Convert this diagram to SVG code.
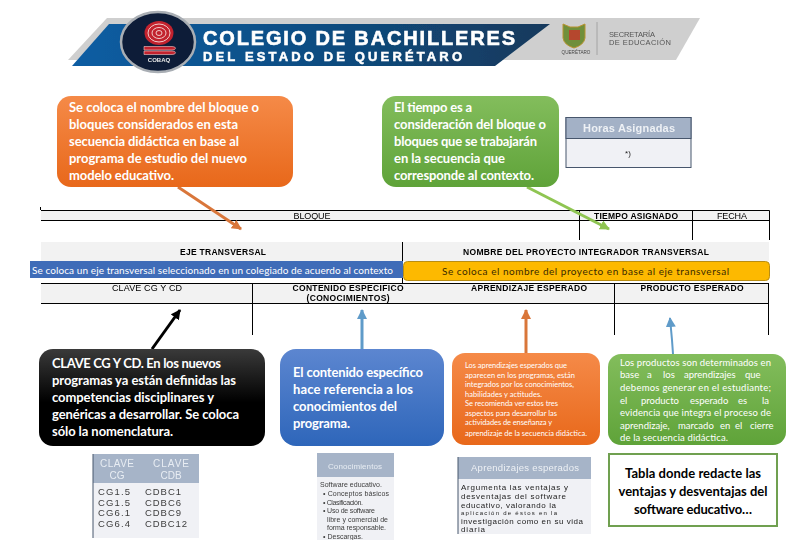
<svg xmlns="http://www.w3.org/2000/svg" width="797" height="540" viewBox="0 0 797 540">
<style>
text{font-family:"Lato","Liberation Sans",sans-serif}
.c14{font-size:13px;fill:#fff;font-weight:bold}
.c8{font-size:7.5px;fill:#fff}
.c10{font-size:9.5px;fill:#fff}
.th{font-family:"Liberation Sans",Arial,sans-serif;font-size:9px;fill:#000;text-anchor:middle}
.b{font-weight:bold;font-size:8.500px}
.scr{font-family:"Liberation Sans",Arial,sans-serif;fill:#3c3c3c}
.ln{stroke:#000;stroke-width:1;fill:none}
.ar{fill:none;stroke-width:3}
</style>
<defs>
<linearGradient id="gO" x1="0" y1="0" x2="0" y2="1"><stop offset="0" stop-color="#f58a48"/><stop offset="1" stop-color="#e8681a"/></linearGradient>
<linearGradient id="gG" x1="0" y1="0" x2="0" y2="1"><stop offset="0" stop-color="#83bd5c"/><stop offset="1" stop-color="#5fa339"/></linearGradient>
<linearGradient id="gK" x1="0" y1="0" x2="0" y2="1"><stop offset="0" stop-color="#3a3a3a"/><stop offset=".55" stop-color="#000"/><stop offset="1" stop-color="#000"/></linearGradient>
<linearGradient id="gB" x1="0" y1="0" x2="0" y2="1"><stop offset="0" stop-color="#5c86d0"/><stop offset="1" stop-color="#2e66ba"/></linearGradient>
<linearGradient id="gBan" x1="0" y1="0" x2="1" y2="0"><stop offset="0" stop-color="#0e5da3"/><stop offset=".45" stop-color="#0f4f86"/><stop offset="1" stop-color="#14395c"/></linearGradient>
<filter id="soft" x="-5%" y="-5%" width="110%" height="110%"><feGaussianBlur stdDeviation="0.35"/></filter>
<marker id="mO" markerUnits="userSpaceOnUse" markerWidth="12" markerHeight="12" refX="9" refY="5" orient="auto"><path d="M0 0L10 5L0 10z" fill="#d9763a"/></marker>
<marker id="mG" markerUnits="userSpaceOnUse" markerWidth="12" markerHeight="12" refX="9" refY="5" orient="auto"><path d="M0 0L10 5L0 10z" fill="#8fc552"/></marker>
<marker id="mK" markerUnits="userSpaceOnUse" markerWidth="12" markerHeight="12" refX="9" refY="5" orient="auto"><path d="M0 0L10 5L0 10z" fill="#000"/></marker>
<marker id="mB" markerUnits="userSpaceOnUse" markerWidth="12" markerHeight="12" refX="9" refY="5" orient="auto"><path d="M0 0L10 5L0 10z" fill="#5f9bc9"/></marker>
</defs>

<g id="banner" filter="url(#soft)">
<polygon points="107,18 700,18 676,60 68,60" fill="#cfcfcf"/>
<polygon points="109,24 550,24 495,66 72,66" fill="url(#gBan)"/>
<ellipse cx="158" cy="42" rx="37" ry="30" fill="#0c1c38" stroke="#a9aeb4" stroke-width="2.5"/>
<ellipse cx="159" cy="33" rx="14.500" ry="12" fill="#c2232e"/>
<ellipse cx="159" cy="33" rx="11" ry="9" fill="none" stroke="#f1c9c9" stroke-width="1"/>
<ellipse cx="159" cy="33" rx="7" ry="5.500" fill="none" stroke="#f1c9c9" stroke-width="1"/>
<ellipse cx="159" cy="33" rx="3" ry="2.500" fill="none" stroke="#f1c9c9" stroke-width="1"/>
<path d="M144 46.500h28a3 1.500 0 0 1 0 3.500h-28zM144 51h28a3 1.500 0 0 1 0 3.500h-28z" fill="#c2232e" stroke="#f1c9c9" stroke-width=".6"/>
<text x="159" y="62" text-anchor="middle" font-size="6" font-weight="bold" fill="#e9e9e9" style="font-family:'Liberation Sans',sans-serif">COBAQ</text>
<text x="203" y="45" font-size="20" font-weight="bold" fill="#fff" stroke="#fff" stroke-width=".6" textLength="312" lengthAdjust="spacing" style="font-family:'Liberation Sans',sans-serif">COLEGIO DE BACHILLERES</text>
<text x="203" y="60.500" font-size="13" font-weight="bold" fill="#fff" stroke="#fff" stroke-width=".5" textLength="259" lengthAdjust="spacing" style="font-family:'Liberation Sans',sans-serif">DEL ESTADO DE QUERÉTARO</text>
<path d="M563 24l7 3h8l7-3v14q-1 7-11 10q-10-3-11-10z" fill="#6f8f3a" stroke="#b9932f" stroke-width="1"/>
<rect x="569" y="30" width="11" height="10" fill="#b5472f"/>
<text x="576" y="54" text-anchor="middle" font-size="4.600" fill="#444" style="font-family:'Liberation Sans',sans-serif">QUERÉTARO</text>
<line x1="597" y1="22" x2="597" y2="55" stroke="#9a9a9a" stroke-width=".8"/>
<text x="609" y="37" font-size="7.500" fill="#555" textLength="46" style="font-family:'Liberation Sans',sans-serif">SECRETARÍA</text>
<text x="609" y="45" font-size="7.500" fill="#555" textLength="62" style="font-family:'Liberation Sans',sans-serif">DE EDUCACIÓN</text>
</g>

<g id="plantilla">
<rect x="41" y="210" width="728" height="10" fill="#f2f2f2"/>
<rect x="41" y="242" width="728" height="19" fill="#f2f2f2"/>
<rect x="41" y="283" width="728" height="20" fill="#f2f2f2"/>
<path class="ln" d="M41 210.500H769.500V240M41 220.500H769M579.500 210V240M692.500 210V240M40.500 207V210"/>
<path class="ln" d="M402.500 242V283M41 283.500H769M41 303.500H769M252.500 283V335M614.500 283V335M768.500 283V335"/>
<g filter="url(#soft)">
<text class="th" x="312" y="218.500" textLength="37">BLOQUE</text>
<text class="th b" x="636" y="218.500" textLength="84">TIEMPO ASIGNADO</text>
<text class="th" x="732" y="218.500" textLength="30">FECHA</text>
<text class="th b" x="223" y="255" textLength="86">EJE TRANSVERSAL</text>
<text class="th b" x="586" y="255" textLength="246">NOMBRE DEL PROYECTO INTEGRADOR TRANSVERSAL</text>
<text class="th" x="147" y="291" textLength="70">CLAVE CG Y CD</text>
<text class="th b" x="348" y="291" textLength="111">CONTENIDO ESPECÍFICO</text>
<text class="th b" x="348" y="301" textLength="83">(CONOCIMIENTOS)</text>
<text class="th b" x="529" y="291" textLength="116">APRENDIZAJE ESPERADO</text>
<text class="th b" x="692" y="291" textLength="103">PRODUCTO ESPERADO</text>
</g>
</g>

<g id="conectores">
<line class="ar" x1="178" y1="187" x2="241" y2="229" stroke="#d9763a" marker-end="url(#mO)"/>
<line class="ar" x1="527" y1="187" x2="609" y2="229" stroke="#8fc552" marker-end="url(#mG)"/>
<line class="ar" x1="152" y1="349" x2="180" y2="310" stroke="#000" marker-end="url(#mK)"/>
<line class="ar" x1="362" y1="349" x2="362" y2="310" stroke="#5f9bc9" marker-end="url(#mB)"/>
<line class="ar" x1="526" y1="353" x2="526" y2="310" stroke="#d9763a" marker-end="url(#mO)"/>
<path d="M673 354L672 340L670 318" fill="none" stroke="#5f9bc9" stroke-width="2" marker-end="url(#mB)"/>
</g>

<g id="bloque">
<rect x="57" y="96" width="236" height="91" rx="14" fill="url(#gO)"/>
<text class="c14" x="69" y="112" textLength="190">Se coloca el nombre del bloque o</text>
<text class="c14" x="69" y="129" textLength="169">bloques considerados en esta</text>
<text class="c14" x="69" y="146" textLength="170">secuencia didáctica en base al</text>
<text class="c14" x="69" y="163" textLength="178">programa de estudio del nuevo</text>
<text class="c14" x="69" y="180" textLength="105">modelo educativo.</text>
</g>

<g id="tiempo">
<rect x="382" y="96" width="177" height="91" rx="14" fill="url(#gG)"/>
<text class="c14" x="394" y="112" textLength="78">El tiempo es a</text>
<text class="c14" x="394" y="129" textLength="152">consideración del bloque o</text>
<text class="c14" x="394" y="146" textLength="143">bloques que se trabajarán</text>
<text class="c14" x="394" y="163" textLength="111">en la secuencia que</text>
<text class="c14" x="394" y="180" textLength="140">corresponde al contexto.</text>
</g>

<g id="horas" filter="url(#soft)">
<rect x="566" y="117.500" width="125" height="50" fill="#f0f1f5" stroke="#46566c"/>
<rect x="566" y="117.500" width="125" height="21" fill="#a3b1c6" stroke="#46566c"/>
<text x="629" y="132" text-anchor="middle" font-size="11" font-weight="bold" fill="#eef1f5" textLength="92" style="font-family:'Liberation Sans',sans-serif">Horas Asignadas</text>
<text x="628" y="156" text-anchor="middle" font-size="8" fill="#222" style="font-family:'Liberation Sans',sans-serif">*)</text>
</g>

<g id="eje">
<rect x="30" y="261" width="373" height="17" fill="#3f6cb8"/>
<text x="32" y="274" font-size="10" fill="#fff" textLength="361">Se coloca un eje transversal seleccionado en un colegiado de acuerdo al contexto</text>
</g>

<g id="proyecto">
<rect x="403.500" y="261.500" width="366" height="19" rx="4" fill="#fdb900" stroke="#b98d12"/>
<text x="442" y="275" font-size="10" fill="#3a2a00" textLength="287">Se coloca el nombre del proyecto en base al eje transversal</text>
</g>

<g id="clave">
<rect x="39" y="349" width="226" height="97" rx="14" fill="url(#gK)"/>
<text class="c14" x="52" y="367.500" textLength="169">CLAVE CG Y CD. En los nuevos</text>
<text class="c14" x="52" y="385" textLength="184">programas ya están definidas las</text>
<text class="c14" x="52" y="402" textLength="162">competencias disciplinares y</text>
<text class="c14" x="52" y="419" textLength="187">genéricas a desarrollar. Se coloca</text>
<text class="c14" x="52" y="436" textLength="121">sólo la nomenclatura.</text>
</g>

<g id="contenido">
<rect x="280" y="349" width="164" height="97" rx="16" fill="url(#gB)"/>
<text class="c14" x="293" y="377" textLength="130">El contenido específico</text>
<text class="c14" x="293" y="394" textLength="120">hace referencia  a los</text>
<text class="c14" x="293" y="411" textLength="104">conocimientos del</text>
<text class="c14" x="293" y="428" textLength="57">programa.</text>
</g>

<g id="aprendizaje">
<rect x="452" y="353" width="148" height="92" rx="13" fill="url(#gO)"/>
<text class="c8" x="465" y="368" textLength="102">Los aprendizajes esperados que</text>
<text class="c8" x="465" y="378" textLength="110">aparecen en los programas, están</text>
<text class="c8" x="465" y="387" textLength="109">integrados por los conocimientos,</text>
<text class="c8" x="465" y="397" textLength="77">habilidades y actitudes.</text>
<text class="c8" x="465" y="406" textLength="93">Se recomienda ver estos tres</text>
<text class="c8" x="465" y="416" textLength="92">aspectos para desarrollar las</text>
<text class="c8" x="465" y="425" textLength="87">actividades de enseñanza y</text>
<text class="c8" x="465" y="436" textLength="122">aprendizaje de la secuencia didáctica.</text>
</g>

<g id="producto">
<rect x="608" y="354" width="178" height="91" rx="13" fill="url(#gG)"/>
<text class="c10" x="620" y="365.500" textLength="151">Los productos son determinados en</text>
<text class="c10" y="378"><tspan x="620">base</tspan><tspan x="647">a</tspan><tspan x="663">los</tspan><tspan x="684">aprendizajes</tspan><tspan x="745">que</tspan></text>
<text class="c10" x="620" y="391" textLength="151">debemos generar en el estudiante;</text>
<text class="c10" y="404"><tspan x="620">el</tspan><tspan x="641">producto</tspan><tspan x="690">esperado</tspan><tspan x="738">es</tspan><tspan x="762">la</tspan></text>
<text class="c10" x="620" y="416" textLength="151">evidencia que integra el proceso de</text>
<text class="c10" y="429"><tspan x="620">aprendizaje,</tspan><tspan x="678">marcado</tspan><tspan x="720">en</tspan><tspan x="735">el</tspan><tspan x="750">cierre</tspan></text>
<text class="c10" x="620" y="441" textLength="108">de la secuencia didáctica.</text>
</g>

<g id="tabla-clave" filter="url(#soft)">
<rect x="93" y="454" width="106" height="84" fill="#f0f1f5"/>
<rect x="93" y="454" width="106" height="29" fill="#a6b4c8"/>
<line x1="93" y1="454" x2="93" y2="538" stroke="#46566c"/>
<g font-size="10" text-anchor="middle"><text x="117" y="467" style="fill:#e8edf3;font-family:'Liberation Sans',sans-serif" textLength="34">CLAVE</text><text x="171" y="467" style="fill:#e8edf3;font-family:'Liberation Sans',sans-serif" textLength="36">CLAVE</text><text x="117" y="479" style="fill:#e8edf3;font-family:'Liberation Sans',sans-serif">CG</text><text x="171" y="479" style="fill:#e8edf3;font-family:'Liberation Sans',sans-serif">CDB</text></g>
<g font-size="9.500"><text class="scr" x="98" y="495" textLength="32">CG1.5</text><text class="scr" x="98" y="505.500" textLength="32">CG1.5</text><text class="scr" x="98" y="516" textLength="32">CG6.1</text><text class="scr" x="98" y="527" textLength="32">CG6.4</text>
<text class="scr" x="145" y="495" textLength="36">CDBC1</text><text class="scr" x="145" y="505.500" textLength="36">CDBC6</text><text class="scr" x="145" y="516" textLength="36">CDBC9</text><text class="scr" x="145" y="527" textLength="42">CDBC12</text></g>
</g>

<g id="tabla-conocimientos" filter="url(#soft)">
<rect x="317" y="453" width="77" height="87" fill="#f0f1f5"/>
<rect x="317" y="453" width="77" height="24" fill="#a6b4c8"/>
<text x="355" y="469" text-anchor="middle" font-size="8" fill="#e8edf3" textLength="54" style="font-family:'Liberation Sans',sans-serif">Conocimientos</text>
<g font-size="7"><text class="scr" x="320" y="487" textLength="62">Software educativo.</text>
<text class="scr" x="323" y="496" textLength="66">• Conceptos básicos</text>
<text class="scr" x="323" y="505" textLength="40">• Clasificación.</text>
<text class="scr" x="323" y="513" textLength="52">• Uso de software</text>
<text class="scr" x="327" y="522" textLength="61">libre y comercial de</text>
<text class="scr" x="327" y="530" textLength="59">forma responsable.</text>
<text class="scr" x="323" y="539" textLength="40">• Descargas.</text></g>
</g>

<g id="tabla-aprendizajes" filter="url(#soft)">
<rect x="458" y="457" width="133" height="77" fill="#f0f1f5"/>
<rect x="458" y="457" width="133" height="22" fill="#a6b4c8"/>
<line x1="458" y1="457" x2="458" y2="534" stroke="#46566c"/>
<text x="525" y="471" text-anchor="middle" font-size="9.500" fill="#eef1f5" textLength="108" style="font-family:'Liberation Sans',sans-serif">Aprendizajes esperados</text>
<g font-size="8"><text class="scr" x="461" y="490" style="fill:#222" textLength="107">Argumenta las ventajas y</text>
<text class="scr" x="461" y="499" style="fill:#222" textLength="105">desventajas del software</text>
<text class="scr" x="461" y="507.500" style="fill:#222" textLength="95">educativo, valorando la</text>
<text class="scr" x="461" y="515" font-size="6" style="fill:#222" textLength="96">aplicación de éstos en la</text>
<text class="scr" x="461" y="523.500" style="fill:#222" textLength="122">investigación como en su vida</text>
<text class="scr" x="461" y="532" style="fill:#222" textLength="24">diaria</text></g>
</g>

<g id="tabla-redacte">
<rect x="609" y="454" width="168" height="72" fill="#fff" stroke="#70a050" stroke-width="2"/>
<g font-size="13" font-weight="bold" fill="#000" text-anchor="middle"><text x="693" y="478" textLength="136">Tabla donde redacte las</text>
<text x="693" y="496" textLength="149">ventajas y desventajas del</text>
<text x="693" y="514" textLength="118">software educativo…</text></g>
</g>
</svg>
